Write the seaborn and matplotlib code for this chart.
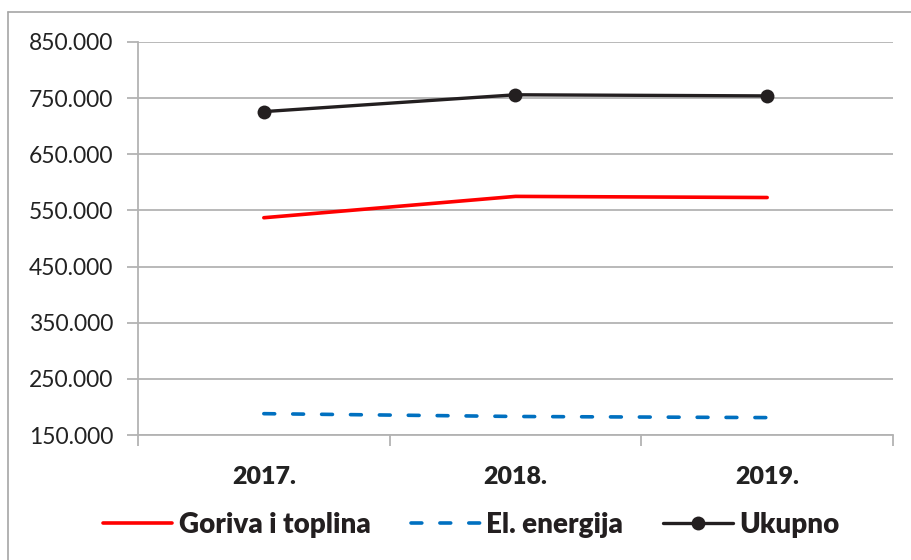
import matplotlib
matplotlib.use("Agg")
import matplotlib.pyplot as plt
from matplotlib.lines import Line2D
from matplotlib.ticker import FuncFormatter, FixedLocator
import seaborn as sns
import pandas as pd

# ---- data ----
years = ["2017.", "2018.", "2019."]
goriva = [537000, 575000, 573000]
el_energija = [188000, 183000, 181000]
ukupno = [726000, 756000, 754000]
series_names = ["Goriva i toplina", "El. energija", "Ukupno"]
y_ticks = [150000, 250000, 350000, 450000, 550000, 650000, 750000, 850000]

df = pd.DataFrame({
    "godina": years * 3,
    "vrijednost": goriva + el_energija + ukupno,
    "serija": [series_names[0]] * 3 + [series_names[1]] * 3 + [series_names[2]] * 3,
})

sns.set_theme(style="white")
plt.rcParams["font.family"] = ["Lato", "DejaVu Sans"]

fig = plt.figure(figsize=(9.12, 5.6), dpi=100)
ax = fig.add_axes([138 / 912, 1 - 435 / 560, (893 - 138) / 912, (435 - 42) / 560])

colors = {"Goriva i toplina": "#FF0000", "El. energija": "#0070C0", "Ukupno": "#231F20"}

sns.lineplot(data=df[df.serija == "Goriva i toplina"], x="godina", y="vrijednost",
             color=colors["Goriva i toplina"], lw=2.6, ax=ax, label="Goriva i toplina",
             solid_capstyle="round")
sns.lineplot(data=df[df.serija == "El. energija"], x="godina", y="vrijednost",
             color=colors["El. energija"], lw=2.6, ax=ax, label="El. energija",
             dashes=False, linestyle=(0, (3, 5)), dash_capstyle="round")
sns.lineplot(data=df[df.serija == "Ukupno"], x="godina", y="vrijednost",
             color=colors["Ukupno"], lw=2.4, marker="o", markersize=10,
             markeredgewidth=0, ax=ax, label="Ukupno")

ax.set_xlim(-0.5, 2.5)
ax.set_ylim(150000, 850000)
ax.set_yticks(y_ticks)
ax.yaxis.set_major_formatter(FuncFormatter(lambda v, p: f"{int(v):,}".replace(",", ".")))
ax.set_xlabel("")
ax.set_ylabel("")

grid_c = "#B3B3B3"
ax.grid(axis="y", color=grid_c, lw=1.3)
ax.grid(axis="x", visible=False)
ax.set_axisbelow(True)
for s in ["top", "right"]:
    ax.spines[s].set_visible(False)
for s in ["left", "bottom"]:
    ax.spines[s].set_color(grid_c)
    ax.spines[s].set_linewidth(1.3)

ax.tick_params(axis="y", which="major", length=8, width=1.3, color=grid_c,
               labelsize=16.5, labelcolor="#222222", pad=10, left=True)
ax.xaxis.set_minor_locator(FixedLocator([-0.5, 0.5, 1.5, 2.5]))
ax.tick_params(axis="x", which="minor", length=8, width=1.3, color=grid_c, bottom=True)
ax.tick_params(axis="x", which="major", length=0, labelsize=18, labelcolor="#222222", pad=22)
for lbl in ax.get_xticklabels():
    lbl.set_fontweight("heavy")

leg = ax.legend(loc="center", bbox_to_anchor=(471 / 912, 1 - 525 / 560),
                bbox_transform=fig.transFigure, ncol=3, frameon=False,
                prop={"size": 20, "weight": "heavy"}, handlelength=2.5,
                handletextpad=0.22, columnspacing=1.45, labelcolor="#231F20")

# outer chart border (top and left visible)
fig.add_artist(Line2D([8 / 912, 1.0], [1 - 12 / 560, 1 - 12 / 560],
                      transform=fig.transFigure, color="#A6A6A6", lw=1.2))
fig.add_artist(Line2D([8 / 912, 8 / 912], [0, 1 - 12 / 560],
                      transform=fig.transFigure, color="#A6A6A6", lw=1.2))

fig.savefig("out.png", dpi=100)
